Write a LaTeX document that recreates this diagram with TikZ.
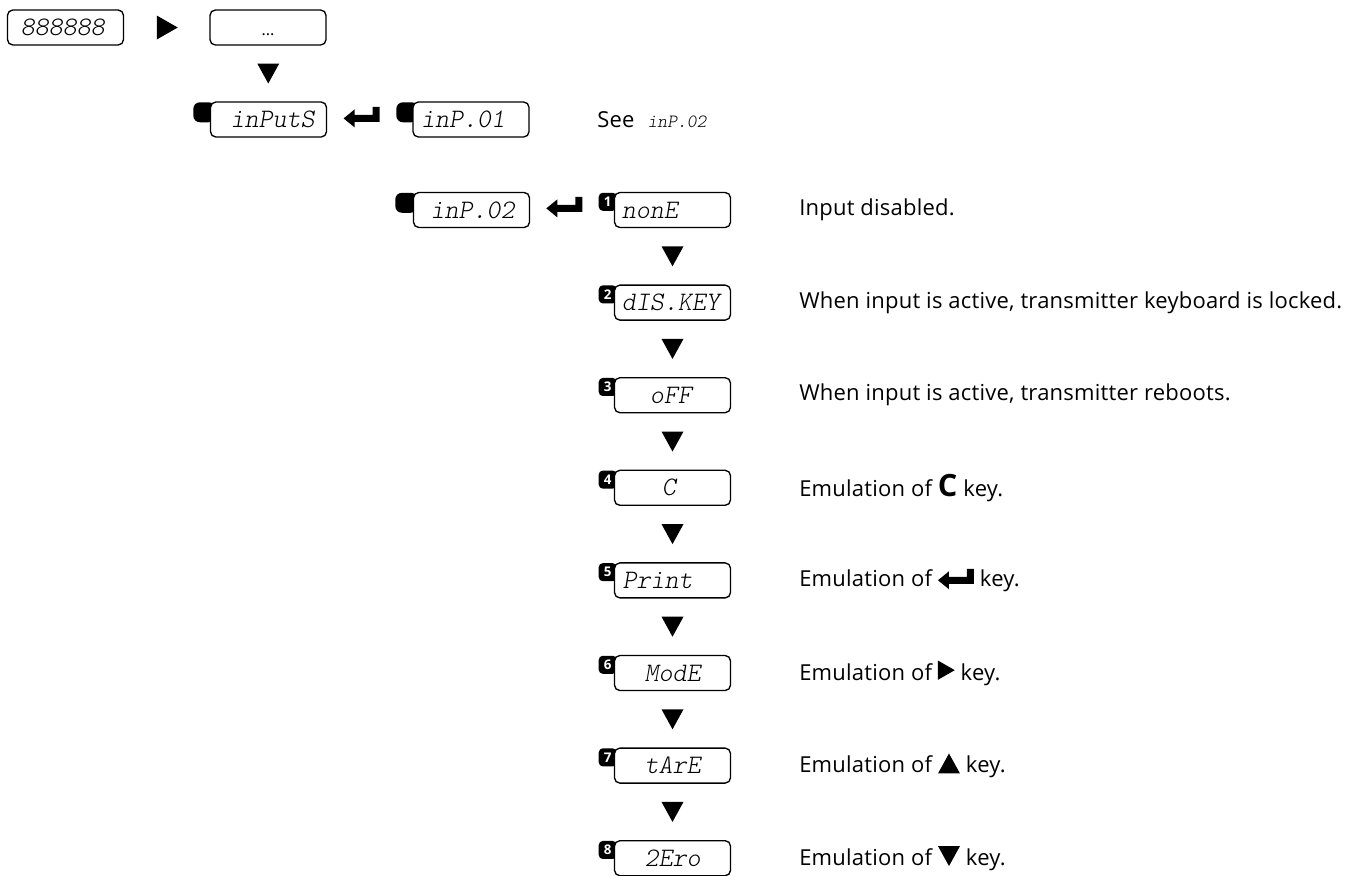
\documentclass[tikz,border=0pt]{standalone}
\usepackage{fontspec}
\setmainfont{Open Sans}
\newfontfamily\descfont{Open Sans}[LetterSpace=1]
\usetikzlibrary{calc}

\newcommand{\segfont}{\ttfamily\fontseries{l}\slshape\fontsize{20}{20}\selectfont}

\tikzset{
  display/.style={draw, fill=white, line width=1pt, rounded corners=4pt, minimum height=26.25pt,
    text width=80pt, inner xsep=3.5pt, inner ysep=0pt, align=left, font=\segfont},
  tab/.style={fill=black, rounded corners=5pt, minimum width=16.5pt, minimum height=15pt, inner sep=0pt},
  badge/.style={fill=black, rounded corners=3pt, minimum size=13.5pt, inner sep=0pt, text=white,
    font=\bfseries\fontsize{10}{10}\selectfont},
  desc/.style={anchor=west, inner sep=0pt, font=\descfont\fontsize{16.5}{19}\selectfont},
  downkey/.pic={\fill (-11,-10) -- (11,-10) -- (0,10) -- cycle;},
  upkey/.pic={\fill (-11,10) -- (11,10) -- (0,-10) -- cycle;},
  rightkey/.pic={\fill (-10,-12) -- (-10,12) -- (11,0) -- cycle;},
  enterkey/.pic={\fill (-18,2.5) -- (-7,-6.5) -- (-7,-1) -- (11,-1) -- (11,-9) -- (18,-9)
    -- (18,6) -- (-7,6) -- (-7,11.5) -- cycle;}
}

% key symbols used in the descriptions
\newcommand{\keyC}{{\fontsize{23}{23}\selectfont\bfseries C}}
\newcommand{\keyenter}{\tikz[baseline={(0,9)},x=0.75pt,y=-0.75pt]\pic{enterkey};}
\newcommand{\keyright}{\tikz[baseline={(0,10)},x=0.6pt,y=-0.6pt]\pic{rightkey};}
\newcommand{\keyup}{\tikz[baseline={(0,9)},x=0.75pt,y=-0.75pt]\pic{upkey};}
\newcommand{\keydown}{\tikz[baseline={(0,9)},x=0.75pt,y=-0.75pt]\pic{downkey};}

\begin{document}
\begin{tikzpicture}[x=0.75pt, y=-0.75pt]
  \useasboundingbox (0,0) rectangle (1348,875);

  % top line
  \node[display, minimum width=86.25pt] (show) at (65.5,27.5) {\hspace*{6.25pt}888888};
  \node[display, font=\fontsize{12}{12}\selectfont, align=center] (dots) at (268,27.5) {\vphantom{Ag}\raisebox{-4pt}{...}};
  \pic at ($(show.east)!0.5!(dots.west)$) {rightkey};

  % inputs menu
  \node[tab, anchor=north west] (tab0) at (193,102) {};
  \node[display] (inputs) at (268.5,119.5) {\hspace*{11.5pt}inPutS};
  \node[tab, anchor=north west] (tab1) at (396,102) {};
  \node[display] (inp1) at (471,119.5) {\hspace*{2.5pt}inP.01};
  \node[desc] (see) at (597,120) {See\hspace{0.6em}{\segfont\fontsize{14}{14}\selectfont inP.02}};
  \pic at ($(dots.south)!0.5!(inputs.north)$) {downkey};
  \pic at ($(inputs.east)!0.5!(tab1.west)$) {enterkey};

  \node[tab, anchor=north west] (tab2) at (395,192.5) {};
  \node[display] (inp2) at (471.5,210) {\hspace*{9.25pt}inP.02};

  % options
  \foreach \i/\val/\off/\desc [evaluate=\i as \y using 210+(\i-1)*92.6] in {
      1/nonE/2/{Input disabled.},
      2/dIS.KEY/2/{When input is active, transmitter keyboard is locked.},
      3/oFF/23/{When input is active, transmitter reboots.},
      4/C/32/{Emulation of \keyC{} key.},
      5/Print/2.5/{Emulation of \keyenter{} key.},
      6/ModE/19/{Emulation of \keyright{} key.},
      7/tArE/19/{Emulation of \keyup{} key.},
      8/2Ero/19/{Emulation of \keydown{} key.}} {
    \node[badge, anchor=north east] (k\i) at (617,\y-17.5) {\i};
    \node[display] (b\i) at (672.5,\y) {\hspace*{\off pt}\val};
    \node[desc] (d\i) at (799,\y) {\desc};
  }
  \pic at ($(inp2.east)!0.5!(k1.west)$) {enterkey};
  \foreach \i [count=\j from 2] in {1,...,7}
    \pic at ($(b\i.south)!0.5!(b\j.north)$) {downkey};
\end{tikzpicture}
\end{document}
